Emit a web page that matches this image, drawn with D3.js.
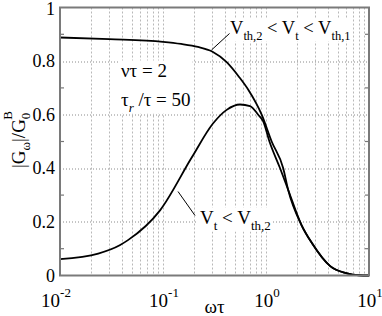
<!DOCTYPE html>
<html>
<head>
<meta charset="utf-8">
<script src="https://cdn.jsdelivr.net/npm/d3@7"></script>
<style>
  body { margin: 0; background: #fff; }
</style>
</head>
<body>
<div id="chart"></div>
<script>
// curve for V_th,2 < V_t < V_th,1
var upperX = [0.01, 0.03, 0.1, 0.15, 0.218, 0.3, 0.415, 0.55, 0.673, 0.908, 1.135, 1.47, 1.64, 2.2, 2.8, 4.2, 6, 8, 10];
var upperY = [0.888, 0.882, 0.872, 0.864, 0.853, 0.836, 0.796, 0.74, 0.693, 0.6, 0.5, 0.4, 0.32, 0.19, 0.12, 0.035, 0.009, 0.001, 0];
// curve for V_t < V_th,2
var lowerX = [0.01, 0.0235, 0.038, 0.0457, 0.094, 0.19, 0.307, 0.415, 0.56, 0.7, 0.84, 0.94, 1.08, 1.37, 1.64, 2.2, 2.8, 4.2, 6, 8, 10];
var lowerY = [0.061, 0.082, 0.113, 0.132, 0.244, 0.44, 0.568, 0.618, 0.638, 0.632, 0.6, 0.575, 0.5, 0.4, 0.32, 0.19, 0.12, 0.035, 0.009, 0.001, 0];

var yTicks = [0, 0.2, 0.4, 0.6, 0.8, 1];
var yLabels = ["0", "0.2", "0.4", "0.6", "0.8", "1"];
var yMinor = [0.1, 0.3, 0.5, 0.7, 0.9];
var xDecades = [-2, -1, 0, 1];

var W = 382, H = 316;
var margin = {top: 7.5, right: 13, bottom: 40.5, left: 60};
var width = W - margin.left - margin.right;
var height = H - margin.top - margin.bottom;
var serif = "'Liberation Serif', 'Times New Roman', serif";

var svg = d3.select("#chart").append("svg")
	.attr("width", W)
	.attr("height", H)
	.style("display", "block")
	.style("font-family", serif);
var view = svg.append("g")
	.attr("transform", "translate(" + margin.left + "," + margin.top + ")");

var xScale = d3.scaleLog().domain([0.01, 10]).range([0, width]);
var yScale = d3.scaleLinear().domain([0, 1]).range([height, 0]);

// vertical grid at every log tick
var xGrid = [];
xDecades.slice(0, 3).forEach(function(e) {
	for (var k = 1; k < 10; k++) xGrid.push(k * Math.pow(10, e));
});
view.append("g").selectAll("line").data(xGrid.slice(1)).enter().append("line")
	.attr("x1", function(d) { return Math.round(xScale(d)) + 0.5; })
	.attr("x2", function(d) { return Math.round(xScale(d)) + 0.5; })
	.attr("y1", 0).attr("y2", height)
	.attr("stroke", "#b8b8b8")
	.attr("stroke-width", 1)
	.attr("stroke-dasharray", "2,2");

// horizontal grid
view.append("g").selectAll("line").data(yTicks.slice(1, 5)).enter().append("line")
	.attr("x1", 0).attr("x2", width)
	.attr("y1", function(d) { return Math.round(yScale(d)) + 0.5; })
	.attr("y2", function(d) { return Math.round(yScale(d)) + 0.5; })
	.attr("stroke", "#8a8a8a")
	.attr("stroke-width", 1)
	.attr("stroke-dasharray", "1,2");

var line = d3.line()
	.x(function(d) { return xScale(d[0]); })
	.y(function(d) { return yScale(d[1]); })
	.curve(d3.curveMonotoneX);

// annotation text with subscripts
function label(g, parts, x, y, size, subSize) {
	var t = g.append("text").attr("x", x).attr("y", y)
		.attr("font-size", size || 19).style("font-family", serif);
	parts.forEach(function(p) {
		var s = t.append("tspan").text(p[0]);
		if (p[1] === "sub") s.attr("font-size", subSize || 13).attr("dy", 6);
		else if (p[1] === "back") s.attr("dy", -6);
		if (p[2]) s.attr("font-style", "italic");
	});
	return t;
}
// white background hiding the grid behind each annotation
function boxed(build) {
	var g = view.append("g");
	var bg = g.append("rect").attr("fill", "#fff");
	build(g);
	var b = g.node().getBBox();
	bg.attr("x", b.x - 2).attr("y", b.y + 1).attr("width", b.width + 4).attr("height", b.height - 2);
	return g;
}

boxed(function(g) {
	label(g, [["V"], ["th,2", "sub"], [" < V", "back"], ["t", "sub"], [" < V", "back"], ["th,1", "sub"]], 170, 26, 18.5, 12.5);
});
boxed(function(g) {
	label(g, [["\u03bd\u03c4 = 2"]], 61, 69);
	label(g, [["\u03c4"], ["r", "sub", true], [" /\u03c4 = 50", "back"]], 61, 98);
});
boxed(function(g) {
	label(g, [["V"], ["t", "sub"], [" < V", "back"], ["th,2", "sub"]], 140, 216);
});

view.append("path").datum(d3.zip(upperX, upperY))
	.attr("d", line).attr("fill", "none").attr("stroke", "#000").attr("stroke-width", 1.8);
view.append("path").datum(d3.zip(lowerX, lowerY))
	.attr("d", line).attr("fill", "none").attr("stroke", "#000").attr("stroke-width", 1.8);

// pointer lines
view.append("line").attr("x1", 151.5).attr("y1", 42.5).attr("x2", 169.5).attr("y2", 26)
	.attr("stroke", "#000").attr("stroke-width", 1);
view.append("line").attr("x1", 118).attr("y1", 184).attr("x2", 135).attr("y2", 208)
	.attr("stroke", "#000").attr("stroke-width", 1);

// minor y ticks, inside on both sides
[[0, 4], [width - 4, width]].forEach(function(xs) {
	view.append("g").selectAll("line").data(yMinor).enter().append("line")
		.attr("x1", xs[0]).attr("x2", xs[1])
		.attr("y1", function(d) { return yScale(d); })
		.attr("y2", function(d) { return yScale(d); })
		.attr("stroke", "#777").attr("stroke-width", 1.2);
});

// frame
view.append("rect")
	.attr("x", 0).attr("y", 0).attr("width", width).attr("height", height)
	.attr("fill", "none").attr("stroke", "#7a7a7a").attr("stroke-width", 2);

// y tick labels
view.append("g").selectAll("text").data(yTicks).enter().append("text")
	.attr("x", -5)
	.attr("y", function(d) { return yScale(d) + (d === 1 ? 1 : 0); })
	.attr("dy", "0.34em")
	.attr("text-anchor", "end")
	.attr("font-size", 18)
	.style("font-family", serif)
	.text(function(d, i) { return yLabels[i]; });

// x tick labels: 10^e
var xl = view.append("g").selectAll("text").data(xDecades).enter().append("text")
	.attr("x", function(e) { return xScale(Math.pow(10, e)) + (e === -2 ? -4 : 1); })
	.attr("y", height + 31)
	.attr("text-anchor", "middle")
	.attr("font-size", 19)
	.style("font-family", serif);
xl.append("tspan").text("10");
xl.append("tspan").attr("font-size", 13).attr("dy", -10).text(function(e) { return e; });

// axis titles
view.append("text")
	.attr("x", width / 2)
	.attr("y", height + 37)
	.attr("text-anchor", "middle")
	.attr("font-size", 19)
	.style("font-family", serif)
	.text("\u03c9\u03c4");

var yt = view.append("text")
	.attr("transform", "translate(-35," + (height / 2 - 2) + ") rotate(-90)")
	.attr("text-anchor", "middle")
	.attr("font-size", 19)
	.style("font-family", serif);
yt.append("tspan").text("|G");
yt.append("tspan").attr("font-size", 13).attr("dy", 5).text("\u03c9");
yt.append("tspan").attr("dy", -5).text("|/G");
yt.append("tspan").attr("font-size", 13).attr("dy", 5).text("0");
yt.append("tspan").attr("font-size", 13).attr("dx", -7).attr("dy", -18).text("B");
</script>
</body>
</html>
